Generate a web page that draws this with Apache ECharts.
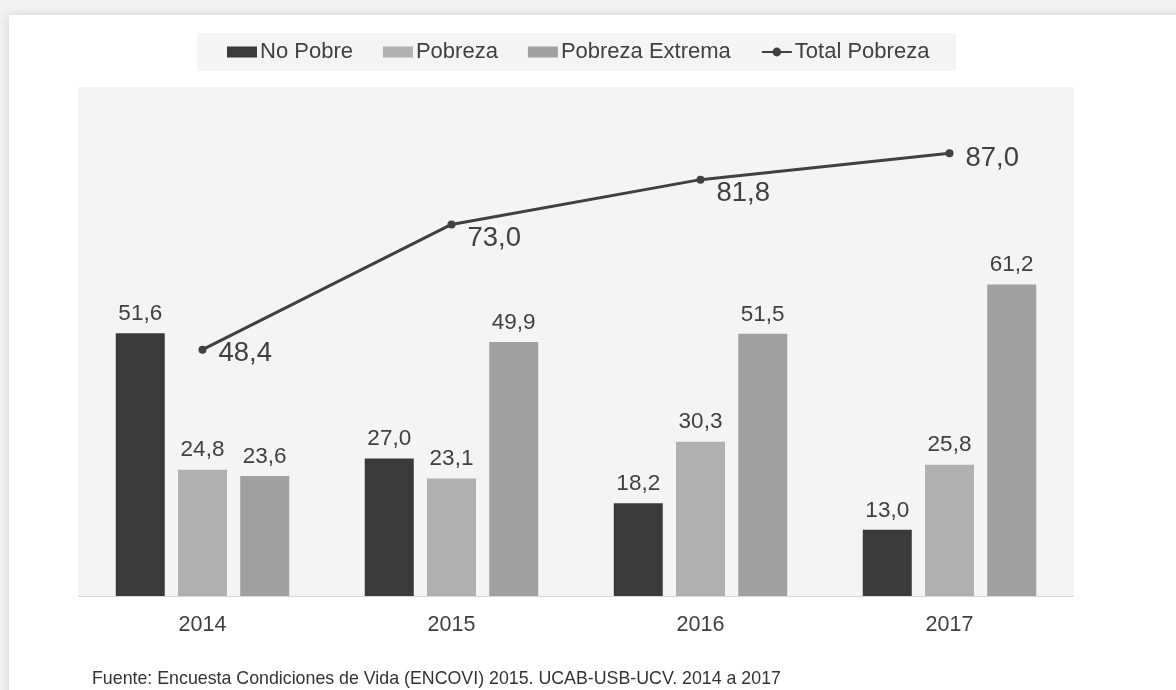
<!DOCTYPE html>
<html>
<head>
<meta charset="utf-8">
<script src="https://cdn.jsdelivr.net/npm/echarts@6/dist/echarts.min.js"></script>
<style>
html,body{margin:0;padding:0;width:1176px;height:690px;overflow:hidden;background:#f2f2f2;}
#card{position:absolute;left:9px;top:15px;width:1200px;height:700px;background:#fff;box-shadow:0 0 10px rgba(0,0,0,0.13);}
#chart{position:absolute;left:0;top:0;width:1176px;height:690px;}
</style>
</head>
<body>
<div id="card"></div>
<div id="chart"></div>
<script>
const categories = ['2014', '2015', '2016', '2017'];
const noPobre = [51.6, 27.0, 18.2, 13.0];
const pobreza = [24.8, 23.1, 30.3, 25.8];
const pobrezaExtrema = [23.6, 49.9, 51.5, 61.2];
const totalPobreza = [48.4, 73.0, 81.8, 87.0];
const seriesNames = ['No Pobre', 'Pobreza', 'Pobreza Extrema', 'Total Pobreza'];
const footnote = 'Fuente: Encuesta Condiciones de Vida (ENCOVI) 2015. UCAB-USB-UCV. 2014 a 2017';

const fmt = v => Number(v).toFixed(1).replace('.', ',');
const FONT = '"Liberation Sans", Arial, sans-serif';
const TXT = '#404040';

const barLabel = {
  show: true, position: 'top', distance: 8,
  fontSize: 22.5, fontFamily: FONT, color: TXT,
  formatter: p => fmt(p.value)
};

const lineOffsets = [[0, 4], [0, 14], [0, 14], [0, 5]];
const lineData = totalPobreza.map((v, i) => ({
  value: v,
  label: { offset: lineOffsets[i] }
}));

const chart = echarts.init(document.getElementById('chart'));
chart.setOption({
  animation: false,
  textStyle: { fontFamily: FONT },
  legend: {
    top: 33, left: 197,
    padding: [8, 27, 8, 30],
    backgroundColor: '#f4f4f4',
    itemWidth: 30, itemHeight: 11, itemGap: 30,
    textStyle: { fontSize: 22, color: TXT, fontFamily: FONT, padding: [0, 0, 0, -2] },
    data: [
      { name: seriesNames[0], icon: 'rect' },
      { name: seriesNames[1], icon: 'rect' },
      { name: seriesNames[2], icon: 'rect' },
      { name: seriesNames[3] }
    ]
  },
  grid: {
    left: 78, right: 102, top: 87, bottom: 94,
    show: true, backgroundColor: '#f4f4f4', borderWidth: 0
  },
  xAxis: {
    type: 'category', data: categories,
    axisLine: { lineStyle: { color: '#d9d9d9', width: 1 } },
    axisTick: { show: false },
    axisLabel: { fontSize: 21.5, color: TXT, margin: 18, fontFamily: FONT }
  },
  yAxis: {
    type: 'value', min: 0, max: 100,
    show: false, splitLine: { show: false }
  },
  series: [
    { name: seriesNames[0], type: 'bar', data: noPobre, barWidth: 49, barGap: '27%',
      itemStyle: { color: '#3a3a3a' }, label: barLabel },
    { name: seriesNames[1], type: 'bar', data: pobreza, barWidth: 49, barGap: '27%',
      itemStyle: { color: '#b0b0b0' }, label: barLabel },
    { name: seriesNames[2], type: 'bar', data: pobrezaExtrema, barWidth: 49, barGap: '27%',
      itemStyle: { color: '#a0a0a0' }, label: barLabel },
    { name: seriesNames[3], type: 'line', data: lineData,
      symbol: 'circle', symbolSize: 8,
      lineStyle: { color: '#404040', width: 3 },
      itemStyle: { color: '#404040' },
      label: { show: true, position: 'right', distance: 12,
        fontSize: 27.5, color: TXT, fontFamily: FONT,
        formatter: p => fmt(p.value) },
      z: 5 }
  ],
  graphic: [
    { type: 'text', left: 92, top: 670,
      style: { text: footnote, fontSize: 17.8, fill: '#333', fontFamily: FONT } }
  ]
});
</script>
</body>
</html>
